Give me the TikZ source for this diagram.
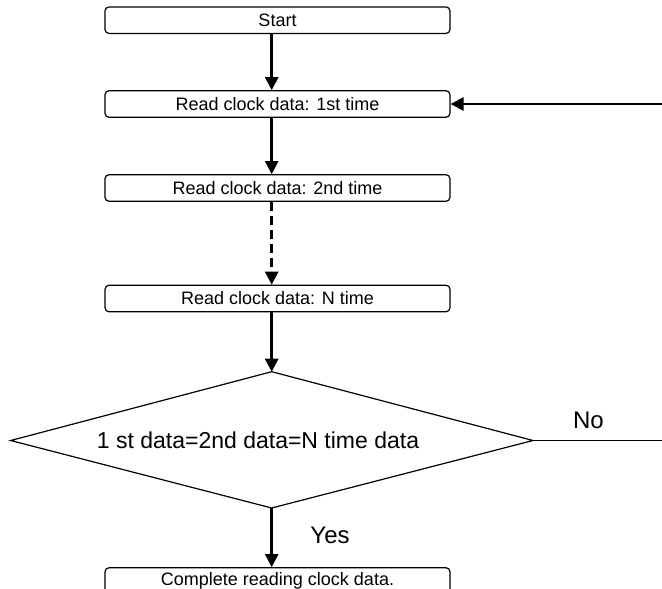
\documentclass[tikz,border=0pt]{standalone}
\usepackage{fontspec}
\setmainfont{Liberation Sans}
\usetikzlibrary{arrows.meta,shapes.geometric}
\tikzset{
  procbox/.style={draw, line width=1.2pt, rounded corners=4pt, minimum width=345pt, minimum height=26.5pt, inner sep=0pt, font=\fontsize{18}{18}\selectfont},
  flowarrow/.style={line width=2.6pt, -{Triangle[width=13pt,length=13pt]}},
  dashflow/.style={flowarrow, dash pattern=on 9pt off 5pt},
  thinline/.style={line width=1.2pt},
  biglabel/.style={font=\fontsize{24}{24}\selectfont, inner sep=0pt}
}
\begin{document}
\begin{tikzpicture}[x=1pt,y=-1pt]
\useasboundingbox (0,0) rectangle (662,589);
\node[procbox] (s) at (277.5,20.2) {Start};
\node[procbox] (b1) at (277.5,104) {Read clock data: 1st time};
\node[procbox] (b2) at (277.5,188) {Read clock data: 2nd time};
\node[procbox] (b3) at (277.5,298.5) {Read clock data: N time};
\node[procbox] (b4) at (277.5,581) {Complete reading clock data.};
\coordinate (ax) at (271.7,0);
\coordinate (dt) at (271.7,371.7);
\coordinate (dl) at (10.7,440.5);
\coordinate (dr) at (533,440.5);
\coordinate (db) at (271.7,508);
\coordinate (fb) at (662,104);
\coordinate (ne) at (662,440.5);
\draw[thinline, line join=miter] (dt) -- (dr) -- (db) -- (dl) -- cycle;
\node[biglabel, font=\fontsize{23}{23}\selectfont] (dtext) at (258,440.5) {1 st data=2nd data=N time data};
\draw[flowarrow] (s.south -| ax) -- (b1.north -| ax);
\draw[flowarrow] (b1.south -| ax) -- (b2.north -| ax);
\draw[dashflow] (b2.south -| ax) -- (b3.north -| ax);
\draw[flowarrow] (b3.south -| ax) -- (dt);
\draw[flowarrow] (db) -- (b4.north -| ax);
\draw[flowarrow] (fb) -- (b1.east);
\draw[thinline] (dr) -- (ne);
\node[biglabel] (no) at (588.5,420) {No};
\node[biglabel] (yes) at (330,535) {Yes};
\end{tikzpicture}
\end{document}
